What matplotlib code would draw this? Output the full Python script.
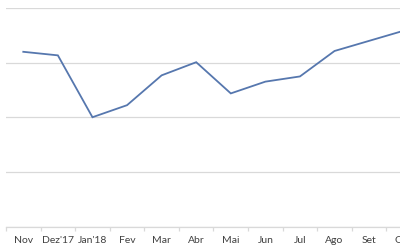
import matplotlib
matplotlib.use("Agg")
import matplotlib.pyplot as plt
import numpy as np

categories = ["Nov", "Dez'17", "Jan'18", "Fev", "Mar", "Abr", "Mai", "Jun", "Jul", "Ago", "Set", "Out"]
values = [64.0, 62.7, 40.1, 44.5, 55.4, 60.2, 48.8, 53.1, 55.0, 64.3, 68.0, 71.7]
y_ticks = [0, 20, 40, 60, 80]

fig = plt.figure(figsize=(4, 2.5), dpi=100)
ax = fig.add_axes([6/400, 23/250, 415/400, 219/250])

x = np.arange(len(categories))
ax.plot(x, values, color="#5677ae", linewidth=1.3, solid_joinstyle="miter")

ax.set_xlim(-0.5, len(categories) - 0.5)
ax.set_ylim(y_ticks[0], y_ticks[-1])
ax.set_yticks(y_ticks)
ax.yaxis.grid(True, color="#d9d9d9", linewidth=0.9)
ax.set_axisbelow(True)
ax.tick_params(axis="y", left=False, labelleft=False)

ax.set_xticks(x)
ax.set_xticklabels(categories, fontsize=7.5, color="#404040", family=["Lato", "DejaVu Sans"])
ax.tick_params(axis="x", which="major", length=0, pad=6.5)
ax.set_xticks(np.arange(len(categories) + 1) - 0.5, minor=True)
ax.tick_params(axis="x", which="minor", length=3, color="#d9d9d9", width=0.9)

for s in ["top", "right", "left"]:
    ax.spines[s].set_visible(False)
ax.spines["bottom"].set_color("#d9d9d9")
ax.spines["bottom"].set_linewidth(0.9)

fig.savefig("out.png", dpi=100)
